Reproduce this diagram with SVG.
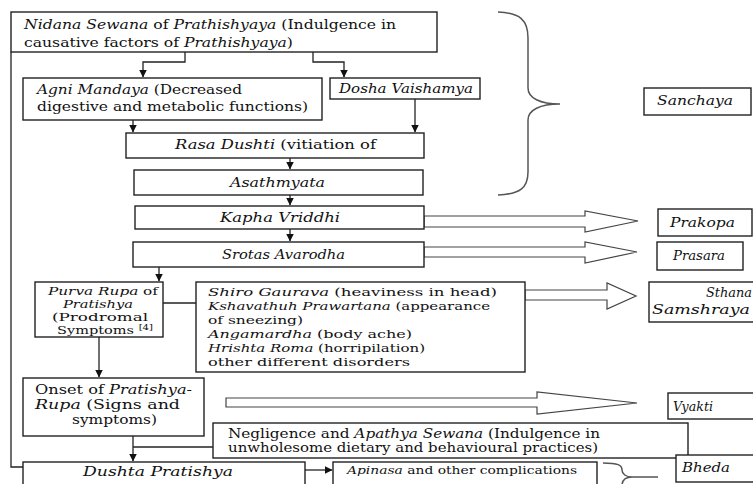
<svg xmlns="http://www.w3.org/2000/svg" width="753" height="484" viewBox="0 0 753 484" font-family="DejaVu Serif, serif">
<style>
text{font-family:"DejaVu Serif","Liberation Serif",serif;font-size:12.5px;fill:#111}
.i{font-style:italic}
.s{font-size:11.5px}
.box{fill:#fff;stroke:#222;stroke-width:1.4}
.ln{fill:none;stroke:#222;stroke-width:1.3}
.ha{fill:#fff;stroke:#444;stroke-width:1.2}
.br{fill:none;stroke:#555;stroke-width:1.5}
</style>
<defs>
<marker id="ah" viewBox="0 0 8 8" refX="7.5" refY="4" markerWidth="8" markerHeight="8" markerUnits="userSpaceOnUse" orient="auto">
<path d="M0,0 L8,4 L0,8 Z" fill="#111"/>
</marker>
</defs>
<rect width="753" height="484" fill="#fff"/>

<g id="connectors">
<polyline class="ln" points="185,52 185,62 143,62 143,77" marker-end="url(#ah)"/>
<polyline class="ln" points="313,52 313,62 344,62 344,77" marker-end="url(#ah)"/>
<line class="ln" x1="133" y1="120" x2="133" y2="132" marker-end="url(#ah)"/>
<line class="ln" x1="415" y1="99" x2="415" y2="132" marker-end="url(#ah)"/>
<line class="ln" x1="290" y1="158" x2="290" y2="169" marker-end="url(#ah)"/>
<line class="ln" x1="290" y1="195" x2="290" y2="205" marker-end="url(#ah)"/>
<line class="ln" x1="290" y1="229" x2="290" y2="241" marker-end="url(#ah)"/>
<line class="ln" x1="159" y1="267" x2="159" y2="281" marker-end="url(#ah)"/>
<line class="ln" x1="163" y1="303" x2="196" y2="303"/>
<line class="ln" x1="99" y1="337" x2="99" y2="377" marker-end="url(#ah)"/>
<line class="ln" x1="133" y1="436" x2="133" y2="461" marker-end="url(#ah)"/>
<line class="ln" x1="213" y1="447" x2="133" y2="447"/>
<polyline class="ln" points="11,52 11,467 23,467"/>
<line class="ln" x1="305" y1="470" x2="332" y2="470" marker-end="url(#ah)"/>
<polygon class="ha" points="424,216 585,216 585,211 638,221 585,232 585,227 424,227"/>
<polygon class="ha" points="424,247 585,247 585,242 637,252 585,263 585,257 424,257"/>
<polygon class="ha" points="525,290 607,290 607,283 636,296 607,309 607,300 525,300"/>
<polygon class="ha" points="226,398 537,398 537,392 637,403 537,414 537,407 226,407"/>
<path class="br" d="M498,12 C520,13 528,20 528,38 L528,88 C528,98 540,104 560,104 C540,104 528,110 528,120 L528,172 C528,188 520,194 498,195"/>
<path class="br" d="M603,463 C618,463 622,465 622,470 C622,474 626,477 632,477 L658,477 M632,477 C626,477 622,480 622,486"/>
</g>

<g id="n-nidana">
<rect class="box" x="11" y="12" width="426" height="40"/>
<text x="24" y="29" textLength="372" lengthAdjust="spacingAndGlyphs"><tspan class="i">Nidana Sewana</tspan> of <tspan class="i">Prathishyaya</tspan> (Indulgence in</text>
<text x="24" y="47" textLength="269" lengthAdjust="spacingAndGlyphs">causative factors  of <tspan class="i">Prathishyaya</tspan>)</text>
</g>

<g id="n-agni">
<rect class="box" x="23" y="78" width="299" height="42"/>
<text x="37" y="94" textLength="205" lengthAdjust="spacingAndGlyphs"><tspan class="i">Agni Mandaya</tspan> (Decreased</text>
<text x="37" y="111" textLength="271" lengthAdjust="spacingAndGlyphs">digestive and metabolic functions)</text>
</g>

<g id="n-dosha">
<rect class="box" x="330" y="78" width="150" height="21"/>
<text class="i" x="339" y="93" textLength="134" lengthAdjust="spacingAndGlyphs">Dosha Vaishamya</text>
</g>

<g id="n-rasa">
<rect class="box" x="126" y="133" width="298" height="25"/>
<text x="175" y="149" textLength="201" lengthAdjust="spacingAndGlyphs"><tspan class="i">Rasa Dushti</tspan> (vitiation of</text>
</g>

<g id="n-asathmyata">
<rect class="box" x="134" y="170" width="289" height="25"/>
<text class="i" x="230" y="187" textLength="95" lengthAdjust="spacingAndGlyphs">Asathmyata</text>
</g>

<g id="n-kapha">
<rect class="box" x="135" y="206" width="289" height="23"/>
<text class="i" x="220" y="222" textLength="120" lengthAdjust="spacingAndGlyphs">Kapha Vriddhi</text>
</g>

<g id="n-srotas">
<rect class="box" x="133" y="242" width="291" height="25"/>
<text class="i" x="222" y="259" textLength="123" lengthAdjust="spacingAndGlyphs">Srotas Avarodha</text>
</g>

<g id="n-purva">
<rect class="box" x="35" y="282" width="128" height="55"/>
<text class="s" x="48" y="295" textLength="110" lengthAdjust="spacingAndGlyphs"><tspan class="i">Purva Rupa</tspan> of</text>
<text class="s i" x="63" y="308" textLength="70" lengthAdjust="spacingAndGlyphs">Pratishya</text>
<text class="s" x="52" y="321" textLength="96" lengthAdjust="spacingAndGlyphs">(Prodromal</text>
<text class="s" x="57" y="334" textLength="96" lengthAdjust="spacingAndGlyphs">Symptoms <tspan font-size="8" dy="-4">[4]</tspan></text>
</g>

<g id="n-shiro">
<rect class="box" x="196" y="282" width="329" height="90"/>
<text class="s" x="208" y="296" textLength="289" lengthAdjust="spacingAndGlyphs"><tspan class="i">Shiro Gaurava</tspan> (heaviness in head)</text>
<text class="s" x="208" y="310" textLength="282" lengthAdjust="spacingAndGlyphs"><tspan class="i">Kshavathuh Prawartana</tspan> (appearance</text>
<text class="s" x="208" y="324" textLength="95" lengthAdjust="spacingAndGlyphs">of sneezing)</text>
<text class="s" x="208" y="338" textLength="204" lengthAdjust="spacingAndGlyphs"><tspan class="i">Angamardha</tspan> (body ache)</text>
<text class="s" x="208" y="352" textLength="217" lengthAdjust="spacingAndGlyphs"><tspan class="i">Hrishta Roma</tspan> (horripilation)</text>
<text class="s" x="208" y="366" textLength="202" lengthAdjust="spacingAndGlyphs">other different disorders</text>
</g>

<g id="n-onset">
<rect class="box" x="23" y="378" width="181" height="58"/>
<text x="35" y="394" textLength="157" lengthAdjust="spacingAndGlyphs">Onset of <tspan class="i">Pratishya-</tspan></text>
<text x="35" y="409" textLength="145" lengthAdjust="spacingAndGlyphs"><tspan class="i">Rupa</tspan> (Signs and</text>
<text x="72" y="424" textLength="85" lengthAdjust="spacingAndGlyphs">symptoms)</text>
</g>

<g id="n-negligence">
<rect class="box" x="213" y="423" width="475" height="35"/>
<text x="228" y="438" textLength="372" lengthAdjust="spacingAndGlyphs">Negligence and <tspan class="i">Apathya Sewana</tspan> (Indulgence in</text>
<text x="228" y="452" textLength="370" lengthAdjust="spacingAndGlyphs">unwholesome dietary and behavioural practices)</text>
</g>

<g id="n-dushta">
<rect class="box" x="23" y="462" width="282" height="30"/>
<text class="i" x="83" y="476" textLength="150" lengthAdjust="spacingAndGlyphs">Dushta Pratishya</text>
</g>

<g id="n-apinasa">
<rect class="box" x="333" y="462" width="264" height="30"/>
<text class="s" x="347" y="474" textLength="230" lengthAdjust="spacingAndGlyphs"><tspan class="i">Apinasa</tspan> and other complications</text>
</g>

<g id="n-sanchaya">
<rect class="box" x="644" y="88" width="107" height="27"/>
<text class="i" x="657" y="105" textLength="76" lengthAdjust="spacingAndGlyphs">Sanchaya</text>
</g>

<g id="n-prakopa">
<rect class="box" x="658" y="209" width="94" height="27"/>
<text class="i" x="670" y="227" textLength="65" lengthAdjust="spacingAndGlyphs">Prakopa</text>
</g>

<g id="n-prasara">
<rect class="box" x="657" y="242" width="86" height="28"/>
<text class="i" x="673" y="260" textLength="52" lengthAdjust="spacingAndGlyphs">Prasara</text>
</g>

<g id="n-sthana">
<rect class="box" x="649" y="282" width="106" height="40"/>
<text class="i" x="706" y="297" textLength="46" lengthAdjust="spacingAndGlyphs">Sthana</text>
<text class="i" x="652" y="314" textLength="98" lengthAdjust="spacingAndGlyphs">Samshraya</text>
</g>

<g id="n-vyakti">
<rect class="box" x="668" y="393" width="87" height="26"/>
<text class="i" x="673" y="411" textLength="40" lengthAdjust="spacingAndGlyphs">Vyakti</text>
</g>

<g id="n-bheda">
<rect class="box" x="676" y="455" width="79" height="27"/>
<text class="i" x="682" y="472" textLength="48" lengthAdjust="spacingAndGlyphs">Bheda</text>
</g>
</svg>
